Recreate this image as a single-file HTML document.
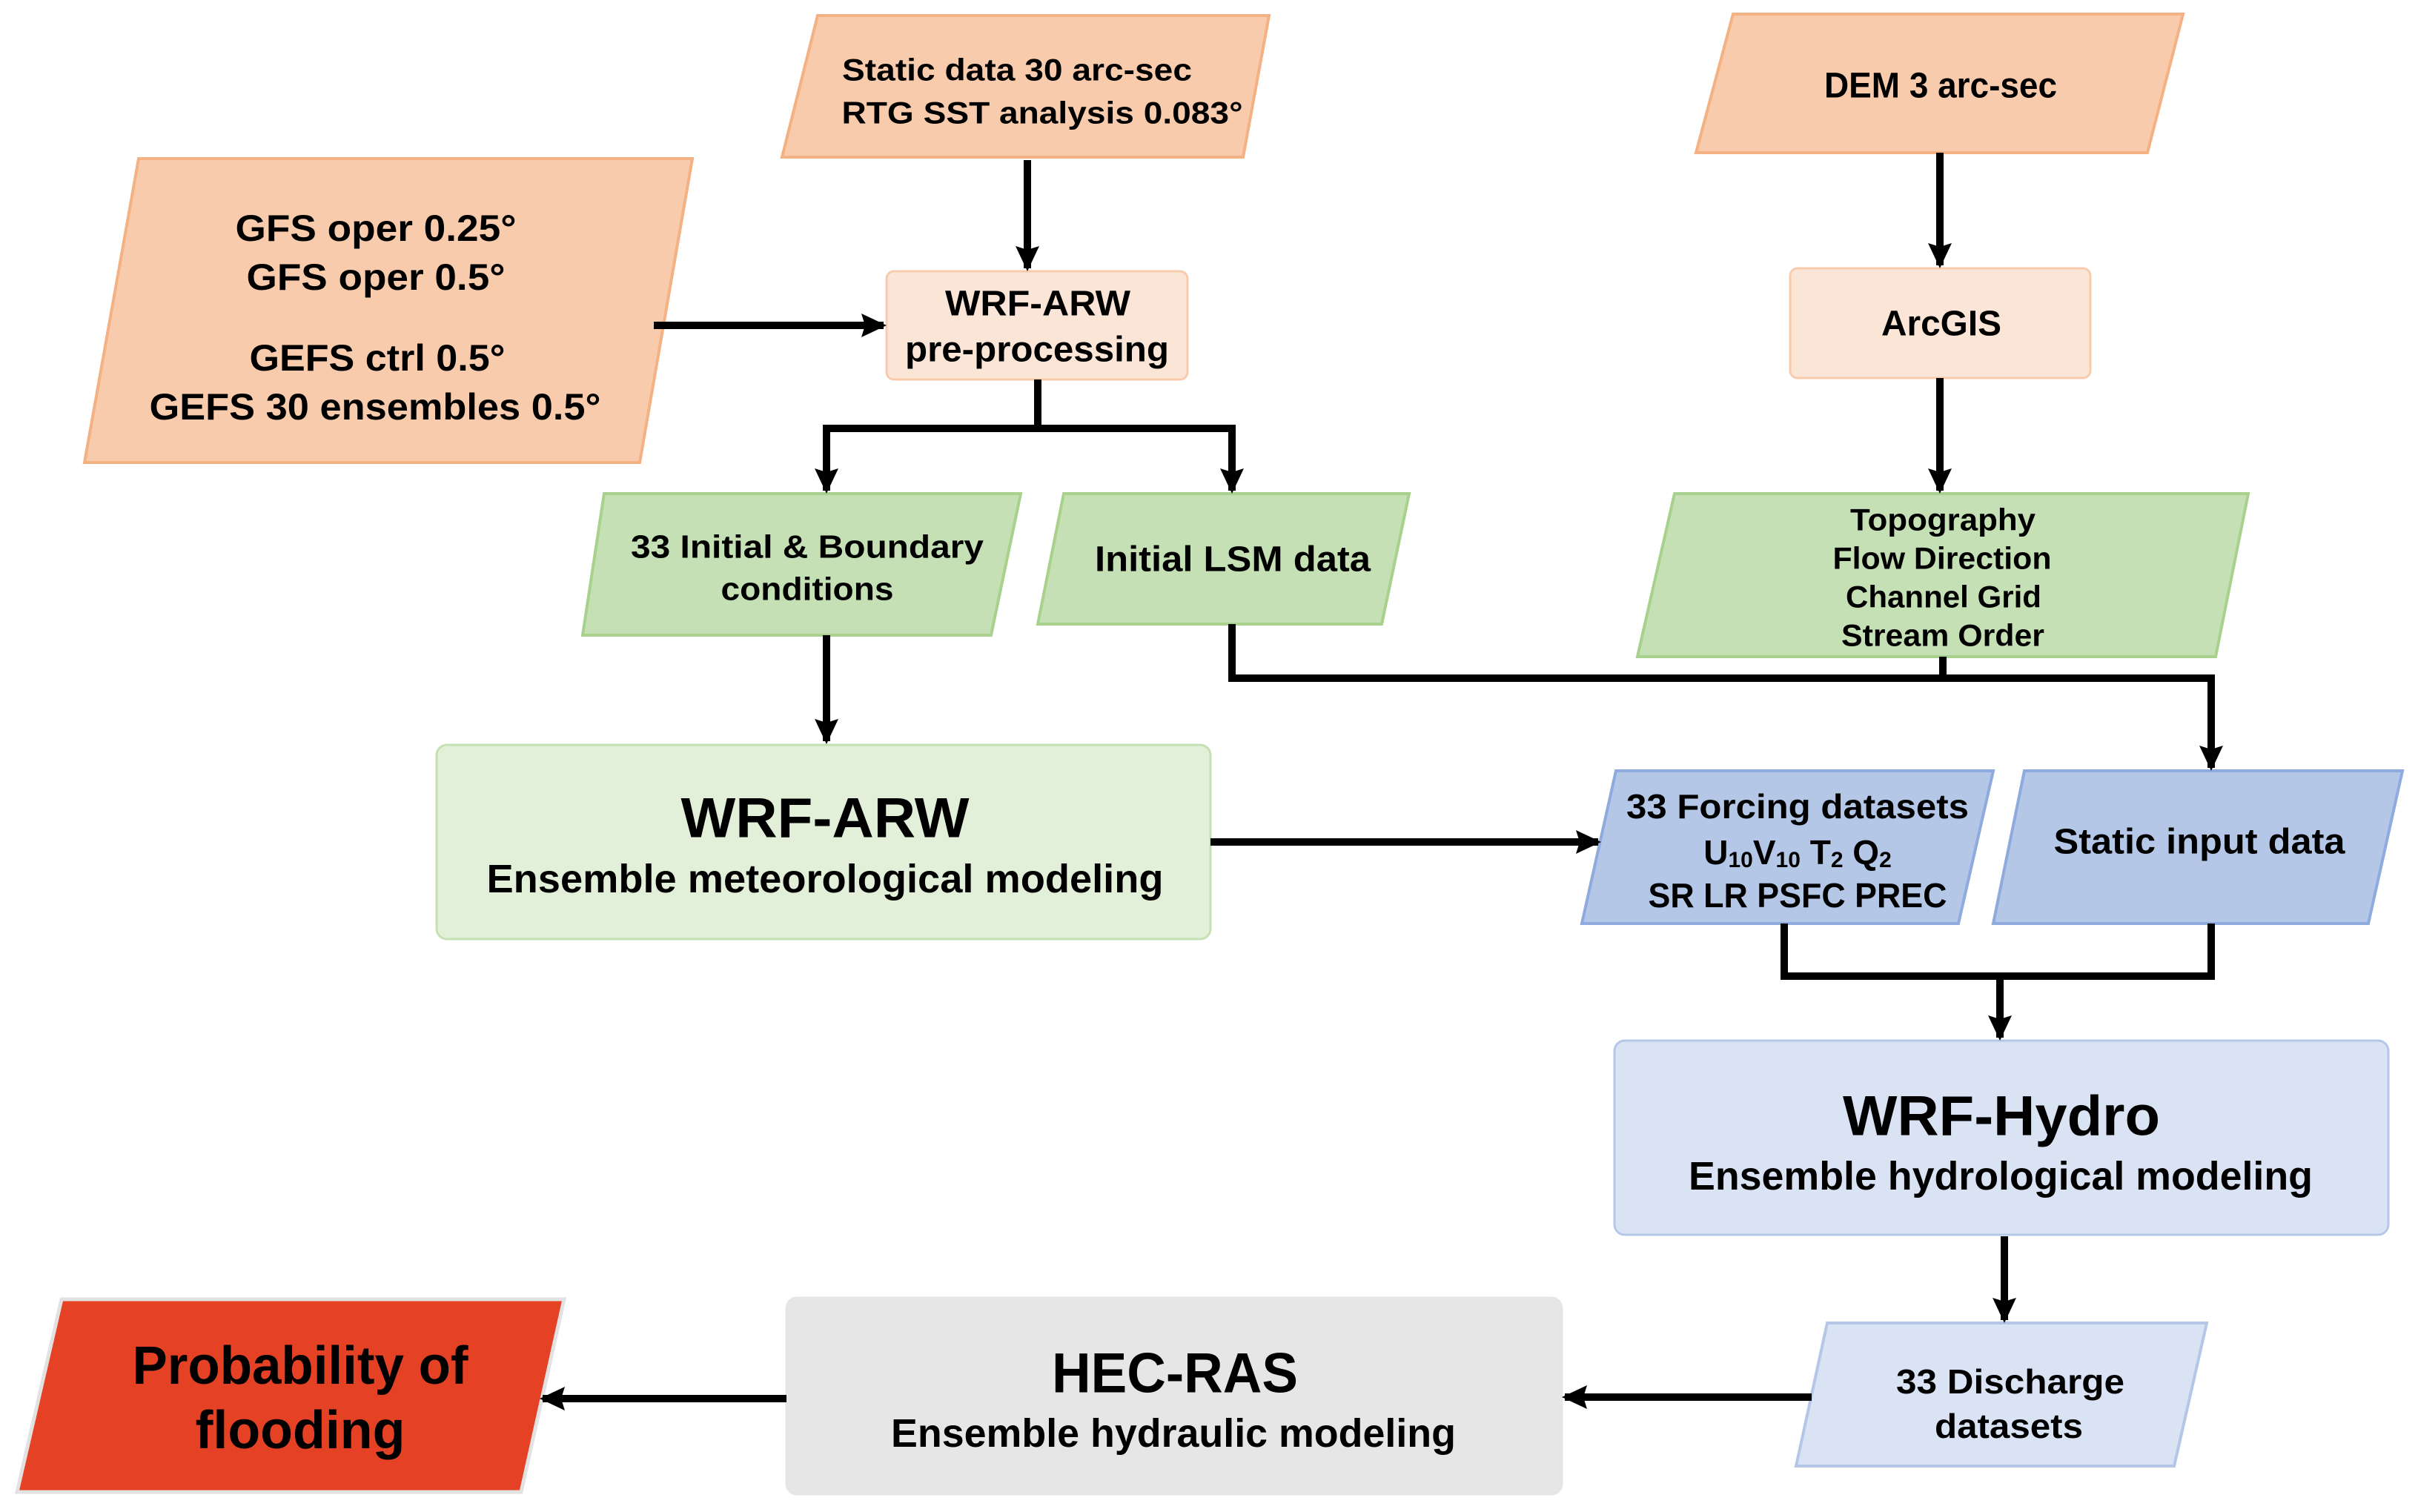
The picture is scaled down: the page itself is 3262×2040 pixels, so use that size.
<!DOCTYPE html>
<html><head><meta charset="utf-8"><style>
html,body{margin:0;padding:0;background:#fff;width:3262px;height:2040px;overflow:hidden}
svg{display:block}
text{font-family:"Liberation Sans",sans-serif;font-weight:bold;fill:#000;text-anchor:middle;dominant-baseline:central}
</style></head><body>
<svg width="3262" height="2040" viewBox="0 0 3262 2040" xmlns="http://www.w3.org/2000/svg">
<defs>
<marker id="ah" markerWidth="3.4" markerHeight="3.4" refX="3" refY="1.7" orient="auto" markerUnits="strokeWidth">
<path d="M0,0.1 L3.4,1.7 L0,3.3 L0.5,1.7 Z" fill="#000"/></marker>
</defs>
<polygon points="1103,21 1712,21 1677,212 1055,212" fill="#f8cbad" stroke="#f4b183" stroke-width="4"/>
<polygon points="187,214 934,214 863,624 114,624" fill="#f8cbad" stroke="#f4b183" stroke-width="4"/>
<rect x="1196" y="366" width="406" height="146" rx="10" fill="#fbe5d6" stroke="#f8cbad" stroke-width="3"/>
<polygon points="815,666 1377,666 1337,857 786,857" fill="#c5e0b4" stroke="#a9d18e" stroke-width="4"/>
<polygon points="1435,666 1901,666 1864,842 1400,842" fill="#c5e0b4" stroke="#a9d18e" stroke-width="4"/>
<rect x="589" y="1005" width="1044" height="262" rx="14" fill="#e2f0d9" stroke="#c5e0b4" stroke-width="3"/>
<polygon points="2338,19 2945,19 2897,206 2288,206" fill="#f8cbad" stroke="#f4b183" stroke-width="4"/>
<rect x="2415" y="362" width="405" height="148" rx="10" fill="#fbe5d6" stroke="#f8cbad" stroke-width="3"/>
<polygon points="2259,666 3033,666 2989,886 2209,886" fill="#c5e0b4" stroke="#a9d18e" stroke-width="4"/>
<polygon points="2180,1040 2689,1040 2642,1246 2134,1246" fill="#b4c7e7" stroke="#8faadc" stroke-width="4"/>
<polygon points="2731,1040 3241,1040 3195,1246 2689,1246" fill="#b4c7e7" stroke="#8faadc" stroke-width="4"/>
<rect x="2178" y="1404" width="1044" height="262" rx="14" fill="#dae3f3" stroke="#b4c7e7" stroke-width="3"/>
<polygon points="2465,1785 2977,1785 2933,1978 2423,1978" fill="#dae3f3" stroke="#b4c7e7" stroke-width="4"/>
<rect x="1061" y="1751" width="1046" height="265" rx="14" fill="#e7e6e6" stroke="#e7e6e6" stroke-width="3"/>
<polygon points="83,1753 761,1753 703,2013 23,2013" fill="#e54125" stroke="#e2e2e2" stroke-width="5"/>
<g stroke="#000" stroke-width="10" fill="none">
<line x1="1386" y1="216" x2="1386" y2="362" marker-end="url(#ah)"/>
<line x1="882" y1="439" x2="1192" y2="439" marker-end="url(#ah)"/>
<polyline points="1400,512 1400,578"/>
<polyline points="1115,578 1662,578"/>
<line x1="1115" y1="573" x2="1115" y2="662" marker-end="url(#ah)"/>
<line x1="1662" y1="573" x2="1662" y2="662" marker-end="url(#ah)"/>
<line x1="1115" y1="857" x2="1115" y2="1000" marker-end="url(#ah)"/>
<line x1="2617" y1="206" x2="2617" y2="358" marker-end="url(#ah)"/>
<line x1="2617" y1="510" x2="2617" y2="662" marker-end="url(#ah)"/>
<polyline points="1662,842 1662,915 2983,915"/>
<line x1="2621" y1="886" x2="2621" y2="915"/>
<line x1="2983" y1="910" x2="2983" y2="1036" marker-end="url(#ah)"/>
<line x1="1633" y1="1136" x2="2156" y2="1136" marker-end="url(#ah)"/>
<polyline points="2407,1246 2407,1317 2983,1317 2983,1246"/>
<line x1="2698" y1="1317" x2="2698" y2="1400" marker-end="url(#ah)"/>
<line x1="2704" y1="1668" x2="2704" y2="1781" marker-end="url(#ah)"/>
<line x1="2444" y1="1885" x2="2111" y2="1885" marker-end="url(#ah)"/>
<line x1="1061" y1="1887" x2="732" y2="1887" marker-end="url(#ah)"/>
</g>
<g style="font-size:42px">
<text x="1372" y="94" textLength="472" lengthAdjust="spacingAndGlyphs">Static data 30 arc-sec</text>
<text x="1406" y="152" textLength="541" lengthAdjust="spacingAndGlyphs">RTG SST analysis 0.083°</text>
</g>
<g style="font-size:50px">
<text x="507" y="308" textLength="379" lengthAdjust="spacingAndGlyphs">GFS oper 0.25°</text>
<text x="507" y="374" textLength="349" lengthAdjust="spacingAndGlyphs">GFS oper 0.5°</text>
<text x="509" y="483" textLength="345" lengthAdjust="spacingAndGlyphs">GEFS ctrl 0.5°</text>
<text x="506" y="549" textLength="609" lengthAdjust="spacingAndGlyphs">GEFS 30 ensembles 0.5°</text>
</g>
<g style="font-size:48px">
<text x="1400" y="410" textLength="250" lengthAdjust="spacingAndGlyphs">WRF-ARW</text>
<text x="1399" y="472" textLength="356" lengthAdjust="spacingAndGlyphs">pre-processing</text>
<text x="1663" y="755" textLength="372" lengthAdjust="spacingAndGlyphs">Initial LSM data</text>
<text x="2618" y="116" textLength="314" lengthAdjust="spacingAndGlyphs">DEM 3 arc-sec</text>
<text x="2619" y="437" textLength="162" lengthAdjust="spacingAndGlyphs">ArcGIS</text>
<text x="2967" y="1136" textLength="393" lengthAdjust="spacingAndGlyphs">Static input data</text>
</g>
<g style="font-size:44px">
<text x="1089" y="738" textLength="476" lengthAdjust="spacingAndGlyphs">33 Initial &amp; Boundary</text>
<text x="1089" y="795" textLength="233" lengthAdjust="spacingAndGlyphs">conditions</text>
</g>
<g style="font-size:42px">
<text x="2621" y="701" textLength="250" lengthAdjust="spacingAndGlyphs">Topography</text>
<text x="2620" y="753" textLength="295" lengthAdjust="spacingAndGlyphs">Flow Direction</text>
<text x="2622" y="805" textLength="264" lengthAdjust="spacingAndGlyphs">Channel Grid</text>
<text x="2621" y="857" textLength="274" lengthAdjust="spacingAndGlyphs">Stream Order</text>
</g>
<g style="font-size:46px">
<text x="2425" y="1088" textLength="462" lengthAdjust="spacingAndGlyphs">33 Forcing datasets</text>
<text x="2425" y="1150">U<tspan style="font-size:30px" dy="10">10</tspan><tspan dy="-10">V</tspan><tspan style="font-size:30px" dy="10">10</tspan><tspan dy="-10"> T</tspan><tspan style="font-size:30px" dy="10">2</tspan><tspan dy="-10"> Q</tspan><tspan style="font-size:30px" dy="10">2</tspan></text>
<text x="2425" y="1208" textLength="403" lengthAdjust="spacingAndGlyphs">SR LR PSFC PREC</text>
<text x="2712" y="1864" textLength="308" lengthAdjust="spacingAndGlyphs">33 Discharge</text>
<text x="2710" y="1924" textLength="200" lengthAdjust="spacingAndGlyphs">datasets</text>
</g>
<g style="font-size:76px">
<text x="1113" y="1104" textLength="389" lengthAdjust="spacingAndGlyphs">WRF-ARW</text>
<text x="2700" y="1506" textLength="428" lengthAdjust="spacingAndGlyphs">WRF-Hydro</text>
<text x="1585" y="1853" textLength="332" lengthAdjust="spacingAndGlyphs">HEC-RAS</text>
</g>
<g style="font-size:54px">
<text x="1113" y="1186" textLength="913" lengthAdjust="spacingAndGlyphs">Ensemble meteorological modeling</text>
<text x="2699" y="1587" textLength="842" lengthAdjust="spacingAndGlyphs">Ensemble hydrological modeling</text>
<text x="1583" y="1934" textLength="762" lengthAdjust="spacingAndGlyphs">Ensemble hydraulic modeling</text>
</g>
<g style="font-size:72px">
<text x="405" y="1843" textLength="453" lengthAdjust="spacingAndGlyphs">Probability of</text>
<text x="405" y="1930" textLength="283" lengthAdjust="spacingAndGlyphs">flooding</text>
</g>
</svg>
</body></html>
